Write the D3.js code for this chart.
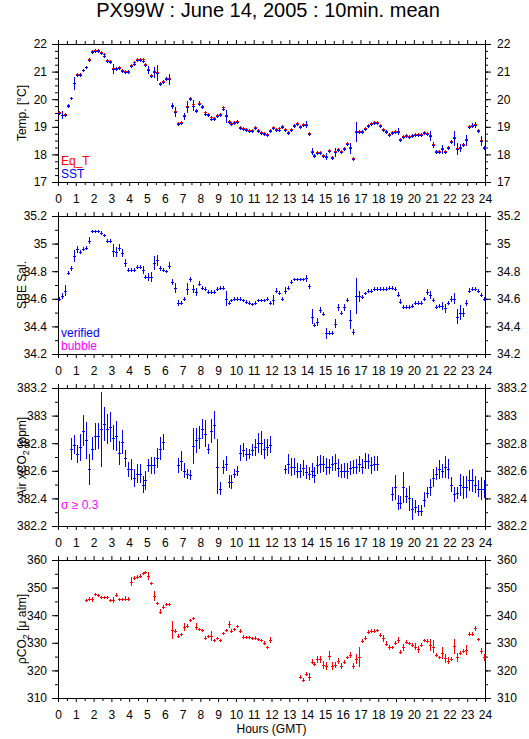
<!DOCTYPE html>
<html>
<head>
<meta charset="utf-8">
<script src="https://cdn.jsdelivr.net/npm/d3@7"></script>
<style>
  body { margin: 0; background: #fff; }
  svg text { font-family: "Liberation Sans", Arial, Helvetica, sans-serif; }
</style>
</head>
<body>
<svg id="chart" width="529" height="739"></svg>
<script>
/**
 * 10 minute means, one slot per 10 minutes (144 slots), null = no data
 */
var sst = [
  19.51,19.42,19.42,19.77,20.03,20.58,20.88,20.87,21.04,21.15,
  21.43,21.70,21.76,21.73,21.66,21.58,21.38,21.36,21.10,21.10,
  21.14,21.02,20.99,21.00,21.21,21.29,21.43,21.43,21.40,21.25,
  21.07,20.83,20.97,20.95,20.54,20.63,20.74,20.72,19.75,19.55,
  19.09,19.13,19.38,19.73,20.02,19.77,19.57,19.84,19.73,19.48,
  19.43,19.30,19.28,19.40,19.43,19.66,19.38,19.19,19.09,19.15,
  19.19,18.96,18.91,18.88,18.86,18.86,18.94,18.85,18.78,18.74,
  18.70,18.85,18.94,18.88,18.90,18.99,18.88,18.78,18.88,19.04,
  19.09,19.00,19.07,19.07,18.74,18.10,17.95,18.04,18.04,17.93,
  17.92,18.11,17.86,18.07,18.16,18.07,18.18,18.36,18.22,17.83,
  18.80,18.82,18.82,18.91,19.04,19.09,19.13,19.13,19.02,18.87,
  18.82,18.71,18.77,18.82,18.82,18.51,18.64,18.68,18.63,18.68,
  18.69,18.70,18.71,18.77,18.74,18.68,18.34,18.10,18.10,18.18,
  18.07,18.22,18.46,18.58,18.20,18.22,18.34,18.52,19.00,19.04,
  19.07,18.85,18.49,18.24];
var sstSd = [
  .04,.15,.04,.05,.04,.24,.04,.04,.04,.05,
  .05,.04,.03,.03,.03,.04,.04,.04,.17,.06,
  .04,.04,.04,.04,.04,.04,.04,.04,.04,.04,
  .14,.05,.21,.30,.05,.05,.06,.21,.10,.18,
  .05,.06,.12,.22,.04,.20,.06,.08,.06,.04,
  .04,.06,.04,.05,.05,.05,.24,.06,.04,.04,
  .04,.04,.04,.04,.04,.04,.04,.04,.04,.04,
  .04,.05,.04,.04,.04,.04,.04,.04,.04,.05,
  .04,.04,.04,.13,.05,.12,.05,.04,.04,.05,
  .14,.05,.05,.15,.05,.05,.05,.06,.20,.05,
  .36,.08,.05,.04,.04,.04,.04,.04,.04,.05,
  .06,.05,.04,.04,.12,.04,.04,.04,.05,.05,
  .05,.04,.04,.04,.05,.18,.10,.05,.05,.15,
  .06,.05,.06,.27,.22,.15,.06,.20,.06,.08,
  .12,.05,.18,.08];
var eqT = [
  19.55,19.44,19.45,19.80,20.06,20.60,20.92,20.90,21.07,21.18,
  21.46,21.74,21.79,21.77,21.70,21.62,21.42,21.40,21.14,21.13,
  21.17,21.05,21.03,21.03,21.25,21.33,21.47,21.47,21.44,21.29,
  21.10,20.86,21.01,20.99,20.57,20.66,20.78,20.76,19.78,19.59,
  19.13,19.16,19.42,19.77,20.06,19.81,19.61,19.88,19.77,19.53,
  19.48,19.34,19.32,19.44,19.46,19.70,19.43,19.22,19.12,19.18,
  19.22,18.99,18.95,18.92,18.90,18.90,18.98,18.89,18.82,18.76,
  18.74,18.89,18.98,18.92,18.94,19.03,18.92,18.82,18.92,19.08,
  19.13,19.04,19.11,19.11,18.78,18.14,17.99,18.08,18.08,17.97,
  17.96,18.15,17.90,18.11,18.20,18.11,18.22,18.40,18.26,17.88,
  18.84,18.86,18.86,18.95,19.08,19.13,19.17,19.17,19.06,18.91,
  18.86,18.75,18.81,18.86,18.86,18.55,18.68,18.72,18.67,18.72,
  18.73,18.74,18.75,18.81,18.78,18.72,18.38,18.14,18.14,18.22,
  18.11,18.26,18.50,18.63,18.24,18.26,18.38,18.57,19.04,19.08,
  19.11,18.89,18.53,18.28];

var sal = [
  34.60,34.62,34.66,34.79,34.82,34.91,34.96,34.94,34.96,34.97,
  35.02,35.09,35.09,35.09,35.08,35.06,35.02,35.02,34.95,34.94,
  34.97,34.93,34.86,34.81,34.81,34.81,34.83,34.83,34.81,34.76,
  34.76,34.76,34.86,34.88,34.82,34.81,34.80,34.84,34.72,34.68,
  34.57,34.57,34.60,34.67,34.74,34.67,34.65,34.71,34.68,34.67,
  34.65,34.65,34.65,34.67,34.68,34.68,34.60,34.57,34.59,34.60,
  34.60,34.60,34.59,34.58,34.57,34.56,34.57,34.59,34.59,34.59,
  34.60,34.57,34.59,34.66,34.64,34.60,34.66,34.68,34.72,34.74,
  34.74,34.74,34.74,34.75,34.69,34.47,34.41,34.43,34.52,34.49,
  34.35,34.35,34.35,34.42,34.54,34.50,34.54,34.59,34.45,34.36,
  34.62,34.62,34.61,34.64,34.66,34.66,34.67,34.67,34.67,34.67,
  34.67,34.68,34.68,34.67,34.63,34.58,34.54,34.54,34.54,34.55,
  34.57,34.57,34.57,34.60,34.65,34.63,34.59,34.54,34.55,34.55,
  34.53,34.57,34.60,34.60,34.47,34.50,34.50,34.57,34.66,34.67,
  34.67,34.66,34.63,34.60];
var salSd = [
  .012,.025,.04,.015,.015,.045,.025,.012,.012,.015,
  .025,.012,.012,.012,.012,.012,.012,.012,.05,.035,
  .025,.03,.03,.012,.012,.012,.012,.012,.03,.015,
  .03,.035,.05,.04,.015,.012,.012,.025,.02,.035,
  .02,.015,.015,.045,.015,.03,.03,.02,.015,.012,
  .012,.012,.012,.012,.012,.012,.055,.015,.012,.012,
  .012,.012,.012,.012,.012,.012,.012,.012,.012,.012,
  .012,.015,.035,.02,.015,.015,.025,.015,.015,.012,
  .012,.012,.012,.025,.02,.055,.015,.03,.02,.015,
  .04,.015,.015,.035,.025,.015,.025,.015,.07,.02,
  .13,.04,.015,.012,.012,.012,.012,.012,.012,.012,
  .012,.012,.012,.012,.02,.02,.015,.012,.012,.012,
  .012,.012,.012,.015,.02,.03,.015,.012,.012,.03,
  .03,.015,.02,.04,.055,.055,.03,.02,.015,.012,
  .012,.012,.015,.015];

var xco2 = [
  null,null,null,null,382.76,382.79,382.72,382.77,382.89,382.82,
  382.61,382.76,382.85,382.85,382.90,382.94,382.90,382.92,382.84,382.85,
  382.73,382.81,382.69,382.61,382.61,382.55,382.58,382.58,382.50,382.53,
  382.64,382.64,382.64,382.69,382.76,382.81,null,null,null,null,
  382.64,382.67,382.60,382.58,382.57,382.78,382.82,382.84,382.90,382.87,
  382.76,382.89,382.93,382.63,382.47,382.63,382.65,382.52,382.52,382.58,
  382.60,382.73,382.75,382.72,382.72,382.75,382.77,382.80,382.80,382.76,
  382.77,382.79,null,null,null,null,382.61,382.65,382.63,382.63,
  382.60,382.60,382.62,382.59,382.58,382.60,382.57,382.64,382.65,382.65,
  382.63,382.63,382.65,382.66,382.62,382.60,382.60,382.60,382.62,382.63,
  382.63,382.65,382.63,382.67,382.67,382.64,382.65,382.65,null,null,
  null,null,382.43,382.48,382.37,382.37,382.48,382.42,382.40,382.32,
  382.34,382.31,382.31,382.39,382.44,382.48,382.55,382.58,382.61,382.60,
  382.63,382.61,382.50,382.43,382.44,382.50,382.48,382.48,382.53,382.53,
  382.50,382.47,382.47,382.47];
var xco2Sd = [
  0,0,0,0,.08,.07,.066,.097,.113,.133,
  .11,.082,.097,.094,.27,.121,.109,.109,.09,.109,
  .085,.085,.063,.055,.076,.066,.072,.066,.06,.066,
  .048,.06,.06,.072,.085,.06,0,0,0,0,
  .055,.07,.055,.036,.036,.133,.09,.085,.072,.1,
  .036,.085,.1,.2,.048,.05,.055,.046,.05,.034,
  .036,.058,.048,.046,.036,.045,.063,.072,.085,.072,
  .06,.06,0,0,0,0,.035,.07,.065,.06,
  .055,.05,.055,.05,.05,.055,.06,.065,.065,.06,
  .06,.055,.055,.06,.065,.05,.055,.06,.05,.05,
  .055,.06,.055,.06,.055,.06,.055,.055,0,0,
  0,0,.05,.09,.055,.05,.11,.055,.09,.08,
  .045,.04,.04,.055,.04,.06,.066,.05,.066,.05,
  .08,.072,.055,.055,.045,.08,.085,.08,.076,.08,
  .06,.06,.085,.065];

var pco2 = [
  null,null,null,null,null,null,null,null,null,345.5,
  346.0,345.8,347.6,347.3,346.5,346.5,346.5,345.5,345.5,347.2,
  345.9,345.9,346.0,346.0,352.2,353.6,354.0,354.3,355.2,355.5,
  354.2,351.5,347.0,344.3,341.3,343.1,344.1,344.1,334.6,334.4,
  332.6,333.2,335.8,336.1,338.3,338.9,335.8,334.9,334.6,331.9,
  332.3,332.5,331.0,331.6,331.0,333.4,334.6,336.7,334.4,335.0,
  336.1,334.3,332.2,332.0,332.1,331.6,331.9,331.3,331.0,330.0,
  328.4,331.0,null,null,null,null,null,null,null,null,
  null,317.7,316.5,318.6,317.5,323.2,322.3,324.0,324.0,322.0,
  321.6,325.3,321.6,322.0,323.5,321.6,323.2,324.7,325.6,321.6,
  324.0,325.0,330.8,331.9,334.0,334.4,334.4,334.6,332.8,331.6,
  329.6,328.4,328.4,330.0,331.0,326.8,328.4,330.4,329.8,329.2,
  328.6,327.6,329.2,331.0,330.7,329.2,328.6,325.6,324.7,326.2,
  324.4,323.5,324.1,328.8,324.7,326.4,327.1,327.4,333.2,333.2,
  335.2,331.3,327.1,324.7];
var pco2Sd = [
  0,0,0,0,0,0,0,0,0,.5,
  .5,.9,.5,.5,.5,.5,.5,.5,1.0,.7,
  .5,.5,.8,.5,1.8,.5,.5,.5,.5,.5,
  1.6,.5,1.8,.6,1.0,.6,.5,.5,3.4,.6,
  .5,.5,1.5,.6,.5,.6,1.2,.6,.5,.5,
  .5,1.8,.5,.6,.5,.6,.5,1.2,.5,.5,
  .5,.6,.5,.5,.5,.5,.5,.5,.5,.6,
  .6,1.0,0,0,0,0,0,0,0,0,
  0,.5,.6,.7,1.5,1.0,.6,1.2,1.3,1.4,
  1.6,1.6,1.5,1.2,1.0,1.1,.6,.6,1.2,1.1,
  1.8,3.6,.5,.5,.5,.5,.5,.5,.6,1.4,
  .9,.9,.5,.6,1.1,.6,1.2,.5,.5,.6,
  1.2,1.4,.6,.5,.5,2.0,2.3,.6,.6,2.2,
  1.6,1.2,.6,2.7,1.5,.6,.6,1.8,.6,.6,
  1.0,.6,1.0,1.4];

// hour axis labels
var hourTicks = d3.range(0, 25);

var blue = "#0000ff", red = "#ff0000", magenta = "#ff00ff";
var font = "\"Liberation Sans\", Arial, Helvetica, sans-serif";

var svg = d3.select("#chart");

var x = d3.scaleLinear().domain([0, 24]).range([58, 485]);
var slotT = function (i) { return (i + 0.5) / 6; }; // centre of 10 min slot

svg.append("text")
  .attr("x", 268).attr("y", 17)
  .attr("text-anchor", "middle")
  .style("font-size", "20px")
  .text("PX99W : June 14, 2005 : 10min. mean");

/**
 * Panel settings, one per plot
 */
var panels = [
  { top: 44,  domain: [17, 22],       major: 1,   minor: 0.25, title: ["Temp. [°C]"] },
  { top: 216, domain: [34.2, 35.2],   major: 0.2, minor: 0.1,  title: ["SBE Sal."] },
  { top: 388, domain: [382.2, 383.2], major: 0.2, minor: 0.1,  title: ["Air xCO", "2", " [ppm]"] },
  { top: 560, domain: [310, 360],     major: 10,  minor: 5,    title: ["\u03c1CO", "2", " [\u03bc atm]"] }
];
var H = 138;

function stepsOf(domain, step) {
  var n = Math.round((domain[1] - domain[0]) / step);
  return d3.range(n + 1).map(function (k) { return +(domain[0] + k * step).toFixed(3); });
}

function styleAxis(g) {
  g.select(".domain").remove();
  g.selectAll("text").style("font-size", "12px").style("font-family", font).attr("fill", "#000");
}

panels.forEach(function (p) {
  p.y = d3.scaleLinear().domain(p.domain).range([p.top + H, p.top]);
  var g = svg.append("g");
  p.g = g;
  var majors = stepsOf(p.domain, p.major);
  var minors = stepsOf(p.domain, p.minor);
  var fmt = function (d) { return String(+d.toFixed(1)); };

  // frame
  g.append("rect")
    .attr("x", 58.5).attr("y", p.top + 0.5)
    .attr("width", 427).attr("height", H)
    .attr("fill", "none").attr("stroke", "#000");

  // y axes
  g.append("g").attr("transform", "translate(58,0)")
    .call(d3.axisLeft(p.y).tickValues(minors).tickSize(3).tickFormat("")).call(styleAxis);
  g.append("g").attr("transform", "translate(58,0)")
    .call(d3.axisLeft(p.y).tickValues(majors).tickSize(6).tickPadding(5).tickFormat(fmt)).call(styleAxis);
  g.append("g").attr("transform", "translate(485,0)")
    .call(d3.axisRight(p.y).tickValues(minors).tickSize(3).tickFormat("")).call(styleAxis);
  g.append("g").attr("transform", "translate(485,0)")
    .call(d3.axisRight(p.y).tickValues(majors).tickSize(6).tickPadding(6).tickFormat(fmt)).call(styleAxis);

  // x axes (top ticks, bottom ticks + hour labels)
  g.append("g").attr("transform", "translate(0," + p.top + ")")
    .call(d3.axisTop(x).tickValues(d3.range(0.5, 24, 1)).tickSize(3).tickFormat("")).call(styleAxis);
  g.append("g").attr("transform", "translate(0," + p.top + ")")
    .call(d3.axisTop(x).tickValues(hourTicks).tickSize(4).tickFormat("")).call(styleAxis);
  g.append("g").attr("transform", "translate(0," + (p.top + H) + ")")
    .call(d3.axisBottom(x).tickValues(d3.range(0.5, 24, 1)).tickSize(3).tickFormat("")).call(styleAxis);
  g.append("g").attr("transform", "translate(0," + (p.top + H) + ")")
    .call(d3.axisBottom(x).tickValues(hourTicks).tickSize(4).tickPadding(8).tickFormat(d3.format("d"))).call(styleAxis);

  // rotated axis title
  var t = g.append("text")
    .attr("transform", "translate(26," + (p.top + H / 2) + ") rotate(-90)")
    .attr("text-anchor", "middle")
    .style("font-size", "12px");
  t.append("tspan").text(p.title[0]);
  if (p.title.length > 1) {
    t.append("tspan").attr("dy", 3).style("font-size", "9px").text(p.title[1]);
    t.append("tspan").attr("dy", -3).text(p.title[2]);
  }
});

/**
 * Draws the 10 min mean marks: short horizontal bar (one slot wide) and a vertical +/- sd bar
 */
function drawMarks(p, values, sd, color) {
  var pts = values.map(function (v, i) {
    return { t: slotT(i), v: v, s: sd ? sd[i] : 0 };
  }).filter(function (d) { return d.v != null; });

  var g = p.g.append("g").attr("stroke", color).attr("shape-rendering", "crispEdges");

  g.selectAll("line.h").data(pts).join("line").attr("class", "h")
    .attr("x1", function (d) { return Math.round(x(d.t)) - 1; })
    .attr("x2", function (d) { return Math.round(x(d.t)) + 2; })
    .attr("y1", function (d) { return Math.round(p.y(d.v)) + 0.5; })
    .attr("y2", function (d) { return Math.round(p.y(d.v)) + 0.5; });

  g.selectAll("line.v").data(pts).join("line").attr("class", "v")
    .attr("x1", function (d) { return Math.round(x(d.t)) + 0.5; })
    .attr("x2", function (d) { return Math.round(x(d.t)) + 0.5; })
    .attr("y1", function (d) { return Math.min(p.y(d.v + d.s), Math.round(p.y(d.v)) - 1); })
    .attr("y2", function (d) { return Math.max(p.y(d.v - d.s), Math.round(p.y(d.v)) + 2); });
}

drawMarks(panels[0], eqT, null, red);
drawMarks(panels[0], sst, sstSd, blue);
drawMarks(panels[1], sal, salSd, blue);
drawMarks(panels[2], xco2, xco2Sd, blue);
drawMarks(panels[3], pco2, pco2Sd, red);

// legends
function legend(p, lines) {
  lines.forEach(function (l, k) {
    p.g.append("text")
      .attr("x", 61).attr("y", p.top + H - 17 + k * 13)
      .attr("fill", l[1]).style("font-size", "12px")
      .text(l[0]);
  });
}
legend(panels[0], [["Eq_T", red], ["SST", blue]]);
legend(panels[1], [["verified", blue], ["bubble", magenta]]);
legend(panels[2], [["\u03c3 \u2265 0.3", magenta]]);

svg.append("text")
  .attr("x", 271.5).attr("y", 733)
  .attr("text-anchor", "middle")
  .style("font-size", "12px")
  .text("Hours (GMT)");
</script>
</body>
</html>
